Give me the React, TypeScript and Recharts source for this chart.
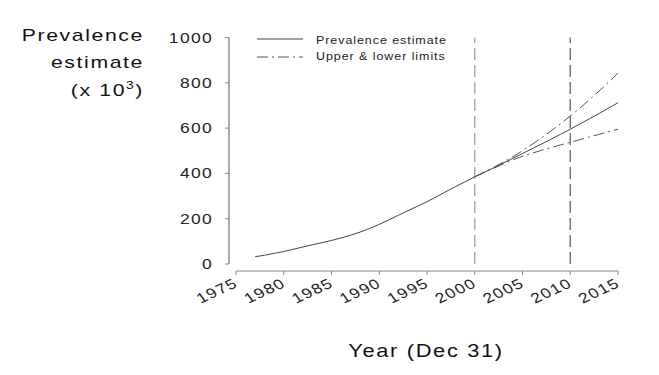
import { LineChart, Line, XAxis, YAxis, ReferenceLine, Legend } from "recharts";

// the source figure is stretched sideways; text gets part of that as a stretch, the rest as spacing
const SX = 1.25;
const FONT = "'Liberation Sans', Arial, sans-serif";
const spacing = (size: number) => size * 0.075;

const years = [
  1977, 1978, 1979, 1980, 1981, 1982, 1983, 1984, 1985, 1986, 1987, 1988, 1989,
  1990, 1991, 1992, 1993, 1994, 1995, 1996, 1997, 1998, 1999, 2000, 2001, 2002,
  2003, 2004, 2005, 2006, 2007, 2008, 2009, 2010, 2011, 2012, 2013, 2014, 2015,
];
const prevalence = [
  32, 39, 47, 55, 65, 75, 85, 94, 104, 115, 127, 141, 157,
  175, 195, 215, 235, 255, 275, 297, 320, 342, 363, 385, 405, 425,
  446, 467, 488, 509, 530, 551, 573, 595, 618, 641, 664, 688, 712,
];
const limitYears = [2000, 2001, 2002, 2003, 2004, 2005, 2006, 2007, 2008, 2009, 2010, 2011, 2012, 2013, 2014, 2015];
const upperLimit = [385, 406, 427, 450, 474, 500, 528, 557, 588, 620, 653, 688, 725, 763, 802, 843];
const lowerLimit = [385, 404, 423, 442, 460, 476, 489, 502, 514, 526, 537, 549, 561, 572, 584, 595];

const xTicks = [1975, 1980, 1985, 1990, 1995, 2000, 2005, 2010, 2015];
const yTicks = [0, 200, 400, 600, 800, 1000];
const markerYears = [2000, 2010];

const data = years.map((year, i) => {
  const j = limitYears.indexOf(year);
  return {
    year,
    prevalence: prevalence[i],
    upper: j >= 0 ? upperLimit[j] : null,
    lower: j >= 0 ? lowerLimit[j] : null,
  };
});

const AXIS = "#8a8a8a";
const DASH_DOT = "11 4 2 4";
// x axis sits a few pixels below the y=0 level, as in the figure
const X_AXIS_LEVEL = -31;

function YTick({ x, y, payload }: any) {
  return (
    <text
      transform={`translate(${x},${y}) scale(${SX},1)`}
      textAnchor="end"
      dy="0.36em"
      fontSize={14}
      letterSpacing={spacing(14)}
      fontFamily={FONT}
      fill="#222"
    >
      {payload.value}
    </text>
  );
}

function XTick({ x, y, payload }: any) {
  return (
    <g>
      <line x1={x} x2={x} y1={y + 7} y2={y + 11} stroke={AXIS} />
      <text
        transform={`translate(${x + 3},${y + 22}) scale(${SX},1) rotate(-30)`}
        textAnchor="end"
        fontSize={14}
        letterSpacing={spacing(14)}
        fontFamily={FONT}
        fill="#222"
      >
        {payload.value}
      </text>
    </g>
  );
}

function YTitle() {
  const t = (y: number, children: any) => (
    <text
      transform={`translate(144,${y}) scale(${SX},1)`}
      textAnchor="end"
      fontSize={17}
      letterSpacing={spacing(17)}
      fontFamily={FONT}
      fill="#111"
    >
      {children}
    </text>
  );
  return (
    <g>
      {t(41, "Prevalence")}
      {t(68, "estimate")}
      {t(96, (
        <>
          (x 10
          <tspan dy={-7} fontSize={11}>3</tspan>
          <tspan dy={7}>)</tspan>
        </>
      ))}
    </g>
  );
}

function XTitle() {
  return (
    <text
      transform={`translate(426,357) scale(${SX},1)`}
      textAnchor="middle"
      fontSize={17.5}
      letterSpacing={spacing(17.5)}
      fontFamily={FONT}
      fill="#111"
    >
      Year (Dec 31)
    </text>
  );
}

function LegendBox() {
  const label = (y: number, s: string) => (
    <text
      transform={`translate(316,${y}) scale(${SX},1)`}
      fontSize={10}
      letterSpacing={spacing(10)}
      fontFamily={FONT}
      fill="#222"
    >
      {s}
    </text>
  );
  return (
    <svg width={460} height={70} style={{ display: "block" }}>
      <line x1={257} x2={303} y1={39} y2={39} stroke="#444" />
      <line x1={257} x2={303} y1={57} y2={57} stroke="#555" strokeDasharray={DASH_DOT} />
      {label(44, "Prevalence estimate")}
      {label(60, "Upper & lower limits")}
    </svg>
  );
}

export default function App() {
  return (
    <div style={{ position: "absolute", left: 0, top: 0, background: "#fff" }}>
      <LineChart width={659} height={375} data={data} margin={{ top: 37.5, right: 41, bottom: 0, left: 0 }}>
        <XAxis
          type="number"
          dataKey="year"
          domain={[1975, 2015]}
          ticks={xTicks}
          padding={{ left: 7, right: 0 }}
          height={111}
          axisLine={false}
          tickLine={false}
          tickSize={0}
          tickMargin={0}
          tick={<XTick />}
          interval={0}
          label={{ content: () => <XTitle /> }}
        />
        <YAxis
          type="number"
          domain={[0, 1000]}
          ticks={yTicks}
          width={229}
          axisLine={{ stroke: AXIS, strokeWidth: 1.4 }}
          tickLine={{ stroke: AXIS }}
          tickSize={4}
          tickMargin={12}
          tick={<YTick />}
          interval={0}
          label={{ content: () => <YTitle /> }}
        />
        <ReferenceLine
          segment={[
            { x: 1975, y: X_AXIS_LEVEL },
            { x: 2015, y: X_AXIS_LEVEL },
          ]}
          stroke={AXIS}
          ifOverflow="visible"
        />
        <ReferenceLine x={markerYears[0]} stroke="#a8a8a8" strokeWidth={1.4} strokeDasharray="12 5" />
        <ReferenceLine x={markerYears[1]} stroke="#6e6e6e" strokeWidth={1.4} strokeDasharray="12 5" />
        <Line type="linear" dataKey="prevalence" stroke="#444" strokeWidth={1} dot={false} isAnimationActive={false} />
        <Line type="linear" dataKey="upper" stroke="#555" strokeWidth={1} strokeDasharray={DASH_DOT} dot={false} isAnimationActive={false} />
        <Line type="linear" dataKey="lower" stroke="#555" strokeWidth={1} strokeDasharray={DASH_DOT} dot={false} isAnimationActive={false} />
        <Legend
          layout="horizontal"
          verticalAlign="middle"
          align="center"
          wrapperStyle={{ left: 0, top: 0, width: 460 }}
          content={() => <LegendBox />}
        />
      </LineChart>
    </div>
  );
}
